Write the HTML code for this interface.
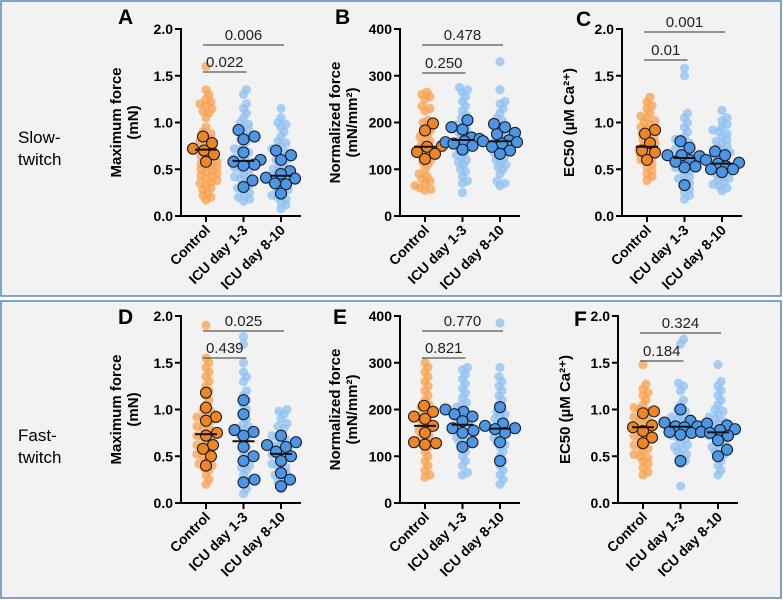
<!DOCTYPE html>
<html><head><meta charset="utf-8"><style>
html,body{margin:0;padding:0;background:#fff;}
svg{display:block;font-family:"Liberation Sans",Arial,sans-serif;}
</style></head><body>
<svg id="fig" width="783" height="600" viewBox="0 0 783 600">
<rect x="1" y="1" width="780" height="295" fill="#f2f2f2" stroke="#5b86b8" stroke-width="1.5"/>
<rect x="1" y="301" width="780" height="297" fill="#f2f2f2" stroke="#5b86b8" stroke-width="1.5"/>
<text x="18" y="143" font-size="17" fill="#000"><tspan x="18">Slow-</tspan><tspan x="18" dy="22">twitch</tspan></text>
<text x="18" y="441" font-size="17" fill="#000"><tspan x="18">Fast-</tspan><tspan x="18" dy="22">twitch</tspan></text>
</svg>
<script>
const categories = ["Control","ICU day 1-3","ICU day 8-10"];
const A_light = [[1.6,1.35,1.3,1.25,1.22,1.2,1.18,1.15,1.12,1.1,1.05,0.95,0.9,0.88,0.85,0.82,0.8,0.78,0.75,0.72,0.7,0.68,0.66,0.64,0.62,0.6,0.58,0.56,0.55,0.53,0.52,0.5,0.48,0.47,0.45,0.43,0.42,0.4,0.38,0.36,0.35,0.33,0.3,0.28,0.25,0.22,0.2,0.17],
[1.35,1.3,1.2,1.15,1.1,1.05,1.0,0.98,0.95,0.92,0.88,0.85,0.82,0.8,0.75,0.72,0.7,0.68,0.65,0.62,0.6,0.58,0.55,0.52,0.5,0.48,0.45,0.42,0.4,0.38,0.35,0.32,0.3,0.28,0.25,0.22,0.2,0.18,0.16],
[1.15,1.05,1.0,0.98,0.95,0.9,0.85,0.8,0.78,0.75,0.72,0.7,0.68,0.65,0.62,0.6,0.58,0.55,0.52,0.5,0.48,0.46,0.44,0.42,0.4,0.38,0.36,0.34,0.32,0.3,0.28,0.26,0.24,0.22,0.2,0.18,0.15,0.12,0.08]];
const A_mean = [[0.85,0.78,0.72,0.7,0.66,0.58],[0.92,0.85,0.82,0.68,0.6,0.58,0.55,0.54,0.38,0.31],[0.7,0.65,0.6,0.48,0.45,0.41,0.4,0.35,0.34,0.24]];
const B_light = [[265,260,255,250,235,230,225,205,200,190,185,180,175,170,165,160,155,150,145,140,135,130,125,120,115,110,100,90,85,80,75,70,65,60,57,55],
[275,270,265,255,245,235,225,215,210,200,195,190,185,180,175,170,165,160,155,150,145,140,135,130,125,120,115,110,100,95,85,75,70,50],
[330,270,245,240,230,220,210,205,200,195,190,185,180,175,170,165,160,155,150,145,140,135,130,125,120,115,110,105,100,90,75,70,65]];
const B_mean = [[198,183,150,148,137,133,122],[205,190,185,168,165,160,158,155,150,142],[197,190,178,175,162,160,158,155,148,140,133]];
const C_light = [[1.27,1.22,1.18,1.15,1.1,1.07,1.05,1.02,1.0,0.98,0.95,0.93,0.9,0.88,0.86,0.84,0.82,0.8,0.78,0.76,0.74,0.72,0.7,0.68,0.66,0.64,0.62,0.6,0.58,0.55,0.52,0.48,0.45,0.42,0.38],
[1.58,1.5,1.1,1.05,1.0,0.95,0.9,0.85,0.82,0.8,0.78,0.75,0.72,0.7,0.68,0.65,0.62,0.6,0.58,0.55,0.52,0.5,0.48,0.45,0.42,0.4,0.38,0.35,0.32,0.28,0.25,0.22,0.18],
[1.13,1.05,1.02,0.98,0.95,0.92,0.9,0.88,0.85,0.82,0.8,0.78,0.75,0.72,0.7,0.68,0.66,0.64,0.62,0.6,0.58,0.56,0.54,0.52,0.5,0.48,0.46,0.44,0.42,0.4,0.38,0.36,0.34,0.32,0.3,0.27]];
const C_mean = [[0.92,0.88,0.78,0.7,0.68,0.6],[0.8,0.73,0.65,0.64,0.6,0.53,0.52,0.33,0.65,0.58],[0.69,0.65,0.6,0.57,0.56,0.53,0.5,0.5,0.47]];
const D_light = [[1.9,1.55,1.5,1.45,1.4,1.35,1.3,1.25,1.2,1.15,1.1,1.05,1.0,0.98,0.95,0.92,0.9,0.88,0.85,0.82,0.8,0.78,0.75,0.72,0.7,0.68,0.65,0.62,0.6,0.58,0.55,0.52,0.5,0.48,0.45,0.42,0.4,0.38,0.35,0.3,0.25,0.2],
[1.78,1.7,1.5,1.4,1.35,1.3,1.2,1.15,1.1,1.05,1.0,0.95,0.9,0.85,0.82,0.8,0.78,0.75,0.72,0.7,0.65,0.6,0.55,0.5,0.45,0.4,0.38,0.35,0.3,0.25,0.2,0.15,0.1],
[1.0,0.98,0.95,0.9,0.85,0.82,0.8,0.75,0.72,0.7,0.68,0.65,0.62,0.6,0.58,0.55,0.52,0.5,0.48,0.45,0.42,0.4,0.38,0.35,0.32,0.3,0.28,0.25,0.22,0.2,0.15]];
const D_mean = [[1.18,1.02,0.92,0.88,0.75,0.72,0.62,0.58,0.5,0.4],[1.1,0.95,0.78,0.76,0.72,0.6,0.5,0.45,0.25,0.22],[0.72,0.65,0.62,0.6,0.55,0.5,0.45,0.32,0.25,0.18]];
const E_light = [[300,290,280,270,260,250,240,230,220,210,205,200,195,190,185,180,175,170,165,160,155,150,145,140,135,130,125,120,110,100,90,80,70,60,55],
[290,285,275,265,255,245,235,225,215,210,205,200,195,190,185,180,175,170,165,160,155,150,145,140,135,130,125,120,110,100,90,80,65,60],
[385,290,270,260,250,240,230,220,210,200,195,190,185,180,175,170,165,160,155,150,145,140,135,130,125,120,110,100,90,80,70,60,50,40]];
const E_mean = [[208,195,185,180,165,150,130,128,125],[200,195,190,185,175,160,155,150,130,120],[205,170,165,160,158,150,130,90]];
const F_light = [[1.48,1.27,1.22,1.18,1.15,1.1,1.05,1.02,1.0,0.98,0.95,0.92,0.9,0.88,0.85,0.82,0.8,0.78,0.75,0.72,0.7,0.68,0.65,0.62,0.6,0.58,0.55,0.52,0.5,0.48,0.45,0.42,0.38,0.33,0.3],
[1.75,1.7,1.28,1.25,1.2,1.1,1.05,1.0,0.98,0.95,0.92,0.9,0.88,0.85,0.82,0.8,0.78,0.75,0.72,0.7,0.68,0.65,0.62,0.6,0.58,0.55,0.52,0.5,0.45,0.42,0.18],
[1.48,1.3,1.25,1.2,1.15,1.1,1.05,1.0,0.98,0.95,0.92,0.9,0.88,0.85,0.82,0.8,0.78,0.75,0.72,0.7,0.68,0.65,0.62,0.6,0.58,0.55,0.52,0.5,0.45,0.4,0.35,0.3]];
const F_mean = [[0.98,0.96,0.83,0.81,0.77,0.7,0.64],[1.0,0.88,0.86,0.82,0.82,0.81,0.76,0.75,0.73,0.45],[0.85,0.83,0.79,0.78,0.76,0.75,0.72,0.67,0.57,0.5]];
const ticks2 = [0,0.5,1.0,1.5,2.0];
const tickLabels2 = ["0.0","0.5","1.0","1.5","2.0"];
const ticks400 = [0,100,200,300,400];
const tickLabels400 = ["0","100","200","300","400"];
const pvals = {A:["0.022","0.006"],B:["0.250","0.478"],C:["0.01","0.001"],D:["0.439","0.025"],E:["0.821","0.770"],F:["0.184","0.324"]};

const NS="http://www.w3.org/2000/svg";
const svg=document.getElementById('fig');
function mk(tag,attrs,parent){const e=document.createElementNS(NS,tag);for(const k in attrs)e.setAttribute(k,attrs[k]);(parent||svg).appendChild(e);return e;}

const panels=[
 {id:'A',ax:181,top:29,light:A_light,mean:A_mean,max:2,ticks:ticks2,tl:tickLabels2,title:["Maximum force","(mN)"],bars:[43,16],letter:[118,24]},
 {id:'B',ax:400,top:29,light:B_light,mean:B_mean,max:400,ticks:ticks400,tl:tickLabels400,title:["Normalized force","(mN/mm²)"],bars:[44,16],letter:[335,24]},
 {id:'C',ax:622,top:29,light:C_light,mean:C_mean,max:2,ticks:ticks2,tl:tickLabels2,title:["EC50 (µM Ca²⁺)"],bars:[31,3],letter:[576,26]},
 {id:'D',ax:181,top:316,light:D_light,mean:D_mean,max:2,ticks:ticks2,tl:tickLabels2,title:["Maximum force","(mN)"],bars:[42,15],letter:[118,324]},
 {id:'E',ax:400,top:316,light:E_light,mean:E_mean,max:400,ticks:ticks400,tl:tickLabels400,title:["Normalized force","(mN/mm²)"],bars:[42,15],letter:[333,324]},
 {id:'F',ax:618,top:316,light:F_light,mean:F_mean,max:2,ticks:ticks2,tl:tickLabels2,title:["EC50 (µM Ca²⁺)"],bars:[45,17],letter:[574,326]}];
const H=187, GAP=37.5, FIRST=25;

function swarm(vals,y,xc,d,lim){
  const idx=vals.map((v,i)=>i).sort((a,b)=>vals[a]-vals[b]);
  const placed=[];const xs=new Array(vals.length);
  idx.forEach(i=>{const py=y(vals[i]);let best=null,bestScore=-1,bestOff=0;
    for(let k=0;k<200;k++){const off=(k%2?1:-1)*Math.ceil(k/2)*1;
      if(Math.abs(off)>lim)break;
      let mind=1e9;placed.forEach(p=>{const dd=Math.hypot(p[0]-off,p[1]-py);if(dd<mind)mind=dd;});
      if(mind>=d){best=off;break;}
      if(mind>bestScore){bestScore=mind;bestOff=off;}}
    if(best===null)best=bestOff;
    placed.push([best,py]);xs[i]=xc+best;});
  return xs;
}

panels.forEach(p=>{
  const g=mk('g',{});
  
  
  const y=v=>p.top+H-v/p.max*H;
  const xc=i=>p.ax+FIRST+i*GAP;
  const base=p.top+H;
  const lt=mk('text',{x:p.letter[0],y:p.letter[1],'font-size':21,'font-weight':'bold'},g);lt.textContent=p.id;
  
  
  p.ticks.forEach((t,i)=>{
    const tk=mk('line',{x1:p.ax-6,x2:p.ax,y1:y(t),y2:y(t),stroke:'#000','stroke-width':2},g);
    
    
    const tx=mk('text',{x:p.ax-8,y:y(t)+5,'font-size':14,'font-weight':'bold','text-anchor':'end'},g);tx.textContent=p.tl[i];
    
    
  });
  const tcx=p.ax-(p.title.length>1?54:48), tcy=p.top+H/2;
  const tt=mk('text',{transform:`translate(${tcx},${tcy}) rotate(-90)`,'font-size':15,'font-weight':'bold','text-anchor':'middle'},g);
  
  
  p.title.forEach((s,i)=>{const ts=mk('tspan',{x:0,dy:i?17:0},tt);ts.textContent=s;});
  if(p.title.length>1) tt.setAttribute('transform',`translate(${tcx-6},${tcy}) rotate(-90)`);
  categories.forEach((c,ci)=>{
    const isC=ci===0;
    const lx=swarm(p.light[ci],y,xc(ci),5.5,16);
    p.light[ci].forEach((v,k)=>{
      const dot=mk('circle',{cx:lx[k],cy:y(v),r:4.6,fill:isC?'#f8a24f':'#8fc0f2','fill-opacity':0.75},g);
      
      
    });
    const mx=swarm(p.mean[ci],y,xc(ci),10.5,17);
    p.mean[ci].forEach((v,k)=>{
      const dot=mk('circle',{cx:mx[k],cy:y(v),r:5.5,fill:isC?'#f08524':'#4b97e6',stroke:'#1e1e28','stroke-width':1.1},g);
      
      
    });
    const m=[...p.mean[ci]].sort((a,b)=>a-b);const med=m.length%2?m[(m.length-1)/2]:(m[m.length/2-1]+m[m.length/2])/2;
    const ml=mk('line',{x1:xc(ci)-11,x2:xc(ci)+11,y1:y(med),y2:y(med),stroke:'#111','stroke-width':2},g);
    
    
    const xt=mk('line',{x1:xc(ci),x2:xc(ci),y1:base,y2:base+6,stroke:'#000','stroke-width':2},g);
    
    
    const xl=mk('text',{transform:`translate(${xc(ci)+5},${base+15}) rotate(-45)`,'font-size':14,'font-weight':'bold','text-anchor':'end'},g);xl.textContent=c;
    
    
  });
  const ya=mk('line',{x1:p.ax,x2:p.ax,y1:p.top-1,y2:base+1,stroke:'#000','stroke-width':2},g);
  
  
  const xa=mk('line',{x1:p.ax-1,x2:p.ax+FIRST+2*GAP+20,y1:base,y2:base,stroke:'#000','stroke-width':2},g);
  
  
  [1,2].forEach((gi,bi)=>{
    const by=p.top+p.bars[bi];
    const x1=xc(0)-3,x2=xc(gi)+3;
    const bl=mk('line',{x1:x1,x2:x2,y1:by,y2:by,stroke:'#555','stroke-width':1.3},g);
    
    
    const bt=mk('text',{x:(x1+x2)/2,y:by-5,'font-size':15,'text-anchor':'middle',fill:'#222'},g);bt.textContent=pvals[p.id][bi];
    
    
  });
});
</script>
</body></html>
